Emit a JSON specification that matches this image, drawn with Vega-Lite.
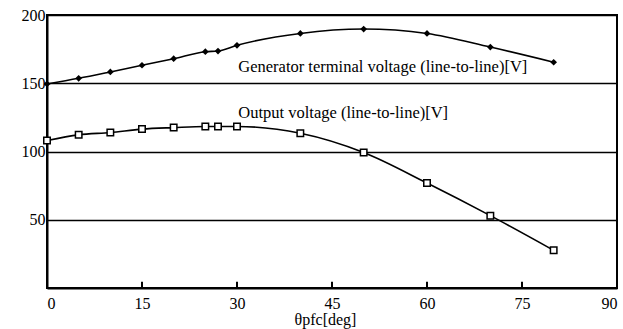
{
  "$schema": "https://vega.github.io/schema/vega-lite/v6.json",
  "width": 570,
  "height": 273,
  "autosize": {"type": "none"},
  "padding": {"left": 47, "top": 15, "right": 6, "bottom": 41},
  "background": "white",
  "config": {
    "view": {"stroke": "black", "strokeWidth": 2},
    "font": "Liberation Serif"
  },
  "datasets": {
    "curves": [
      {"theta": 0, "v": 149.5, "series": "gen"},
      {"theta": 5, "v": 153.6, "series": "gen"},
      {"theta": 10, "v": 158.3, "series": "gen"},
      {"theta": 15, "v": 163.2, "series": "gen"},
      {"theta": 20, "v": 168.0, "series": "gen"},
      {"theta": 25, "v": 173.1, "series": "gen"},
      {"theta": 27, "v": 173.6, "series": "gen"},
      {"theta": 30, "v": 177.8, "series": "gen"},
      {"theta": 40, "v": 186.5, "series": "gen"},
      {"theta": 50, "v": 189.7, "series": "gen"},
      {"theta": 60, "v": 186.5, "series": "gen"},
      {"theta": 70, "v": 176.5, "series": "gen"},
      {"theta": 80, "v": 165.4, "series": "gen"},
      {"theta": 0, "v": 108.0, "series": "out"},
      {"theta": 5, "v": 112.2, "series": "out"},
      {"theta": 10, "v": 113.9, "series": "out"},
      {"theta": 15, "v": 116.4, "series": "out"},
      {"theta": 20, "v": 117.5, "series": "out"},
      {"theta": 25, "v": 118.3, "series": "out"},
      {"theta": 27, "v": 118.3, "series": "out"},
      {"theta": 30, "v": 118.3, "series": "out"},
      {"theta": 40, "v": 113.4, "series": "out"},
      {"theta": 50, "v": 99.3, "series": "out"},
      {"theta": 60, "v": 76.9, "series": "out"},
      {"theta": 70, "v": 53.0, "series": "out"},
      {"theta": 80, "v": 27.6, "series": "out"}
    ],
    "labels": [
      {"theta": 30.2, "v": 158.5, "text": "Generator terminal voltage (line-to-line)[V]"},
      {"theta": 30.2, "v": 124.6, "text": "Output voltage (line-to-line)[V]"}
    ],
    "ticks": [
      {"theta": 15, "v0": 0, "v1": 4.5},
      {"theta": 30, "v0": 0, "v1": 4.5},
      {"theta": 45, "v0": 0, "v1": 4.5},
      {"theta": 60, "v0": 0, "v1": 4.5},
      {"theta": 75, "v0": 0, "v1": 4.5}
    ]
  },
  "encoding": {
    "x": {
      "field": "theta", "type": "quantitative",
      "scale": {"domain": [0, 90], "nice": false, "zero": false},
      "axis": {
        "values": [0, 15, 30, 45, 60, 75, 90],
        "title": "θpfc[deg]",
        "titleFont": "Liberation Serif", "titleFontSize": 16, "titleFontWeight": "normal",
        "titleColor": "black", "titlePadding": 0, "titleX": 278,
        "labelFont": "Liberation Serif", "labelFontSize": 16, "labelColor": "black",
        "labelPadding": 7, "ticks": false,
        "grid": false, "domainColor": "black", "domainWidth": 2
      }
    },
    "y": {
      "field": "v", "type": "quantitative",
      "scale": {"domain": [0, 200], "nice": false},
      "axis": {
        "values": [50, 100, 150, 200],
        "title": null,
        "labelFont": "Liberation Serif", "labelFontSize": 16, "labelColor": "black",
        "labelPadding": 2, "ticks": false,
        "grid": true, "gridColor": "black", "gridWidth": 1.6, "gridOpacity": 1,
        "domainColor": "black", "domainWidth": 2
      }
    }
  },
  "layer": [
    {
      "data": {"name": "ticks"},
      "mark": {"type": "rule", "color": "black", "strokeWidth": 2},
      "encoding": {"y": {"field": "v0", "type": "quantitative"}, "y2": {"field": "v1"}}
    },
    {
      "data": {"name": "curves"},
      "mark": {"type": "line", "interpolate": "monotone", "color": "black", "strokeWidth": 1.6},
      "encoding": {"detail": {"field": "series"}}
    },
    {
      "data": {"name": "curves"},
      "transform": [{"filter": "datum.series === 'gen'"}],
      "mark": {"type": "point", "shape": "diamond", "filled": true, "color": "black", "size": 45, "opacity": 1}
    },
    {
      "data": {"name": "curves"},
      "transform": [{"filter": "datum.series === 'out'"}],
      "mark": {"type": "point", "shape": "square", "filled": false, "fill": "white", "stroke": "black", "strokeWidth": 1.5, "size": 42, "opacity": 1, "fillOpacity": 1}
    },
    {
      "data": {"name": "labels"},
      "mark": {"type": "text", "align": "left", "baseline": "alphabetic", "font": "Liberation Serif", "fontSize": 16.5, "color": "black"},
      "encoding": {"text": {"field": "text"}}
    }
  ]
}
